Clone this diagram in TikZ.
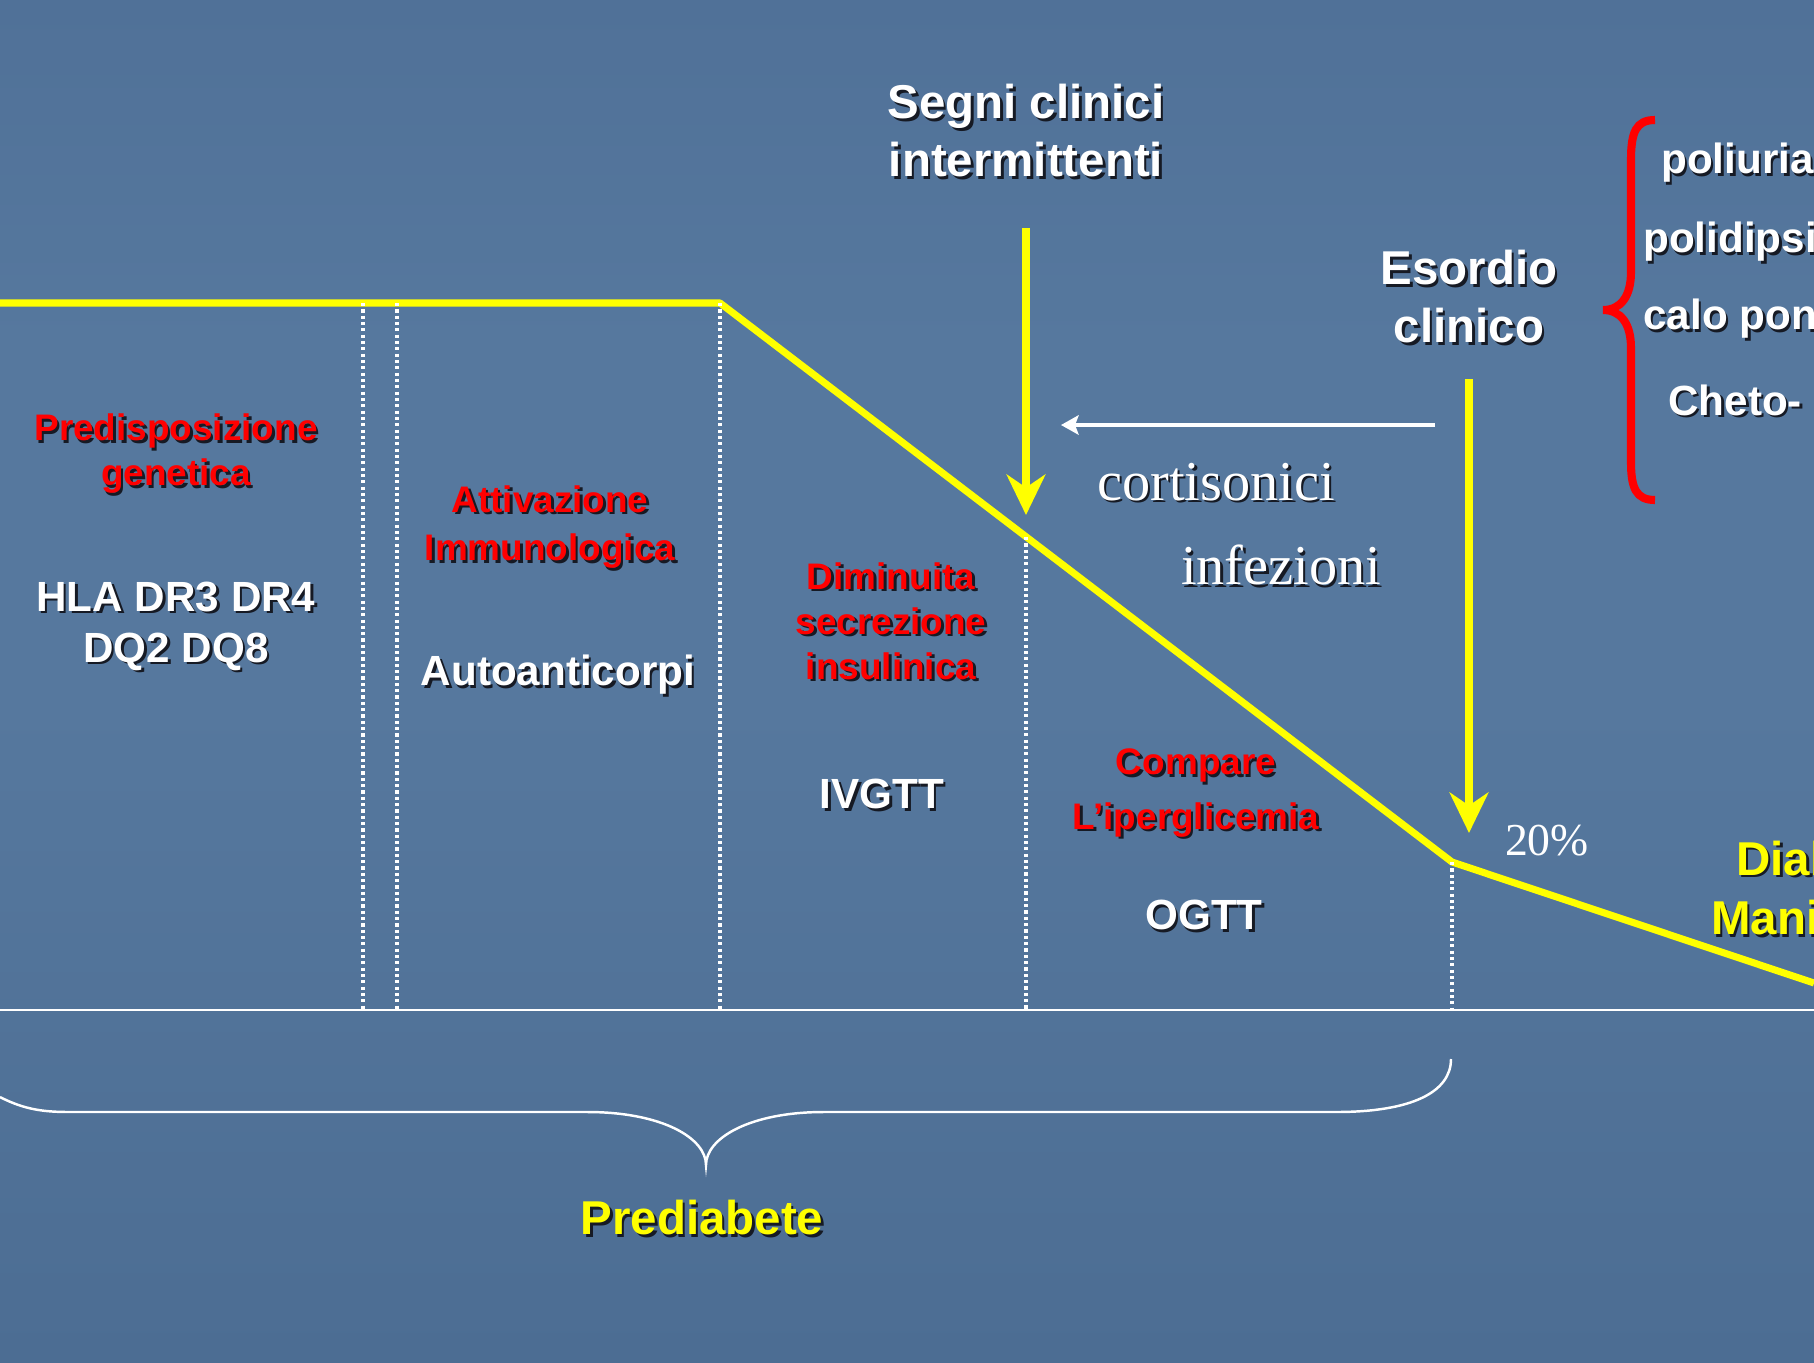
\documentclass[tikz,border=0pt]{standalone}
\usepackage{fontspec}
\setmainfont{Liberation Sans}
\newfontfamily\serifface{Liberation Serif}
\usetikzlibrary{arrows.meta,positioning}

\definecolor{slidetop}{RGB}{80,113,152}
\definecolor{slidemid}{RGB}{86,120,158}
\definecolor{slidebot}{RGB}{76,109,147}
\definecolor{hilite}{RGB}{255,255,0}
\definecolor{alert}{RGB}{255,0,0}
\definecolor{shade}{RGB}{22,26,36}

% label with a dark drop shadow: style, name, position, text
\newcommand{\shnode}[4]{%
  \node[#1,text=shade] (#2-sh) at ([shift={(2.5,2.5)}]#3) {#4};
  \node[#1] (#2) at (#3) {#4};}

\begin{document}
\begin{tikzpicture}[x=0.01cm, y=-0.01cm,
                    thick,
                    main node/.style={align=center,inner sep=0pt,text=white,
                                      font=\bfseries\fontsize{12}{14.5}\selectfont},
                    red node/.style={main node,text=alert,
                                     font=\bfseries\fontsize{10.5}{12.8}\selectfont},
                    big node/.style={main node,
                                     font=\bfseries\fontsize{13.5}{16.5}\selectfont},
                    serif node/.style={inner sep=0pt,text=white,
                                       font=\serifface\fontsize{16}{19}\selectfont},
                    curve/.style={hilite,line width=2pt,line join=round},
                    drop/.style={hilite,line width=2.5pt,
                                 -{Stealth[length=11.5pt,width=11pt,inset=3.7pt]}},
                    divider/.style={white,line width=0.9pt,dash pattern=on 0.9pt off 0.9pt}]

  \useasboundingbox (0,0) rectangle (1814,1363);
  \clip (0,0) rectangle (1814,1363);
  \fill[top color=slidetop,bottom color=slidemid,middle color=slidemid] (0,0) rectangle (1814,700);
  \fill[top color=slidemid,bottom color=slidebot] (0,700) rectangle (1814,1363);

  % the curve
  \coordinate (start) at (0,303);
  \coordinate (bend) at (720,303);
  \coordinate (onset) at (1452,862);
  \coordinate (end) at (1814,983);
  \draw[curve] (start) -- (bend) -- (onset) -- (end);

  % time axis and phases
  \coordinate (axis l) at (0,1010);
  \coordinate (axis r) at (1814,1010);
  \draw[white,line width=0.6pt] (axis l) -- (axis r);
  \foreach \x in {363,397,720}
    \draw[divider] (\x,303) -- (\x,1010);
  \draw[divider] (1026,537) -- (1026,1010);
  \draw[divider] (onset) -- (1452,1010);

  % phase labels
  \shnode{red node}{pred}{176,454}{Predisposizione\\genetica}
  \shnode{main node}{hla}{176,626}{HLA DR3 DR4\\DQ2 DQ8}
  \shnode{red node,font=\bfseries\fontsize{10.5}{13.7}\selectfont}{attiv}{550,527}{Attivazione\\Immunologica}
  \shnode{main node}{auto}{558,675}{Autoanticorpi}
  \shnode{red node}{dimin}{891,621}{Diminuita\\secrezione\\insulinica}
  \shnode{main node}{ivgtt}{882,794}{IVGTT}
  \shnode{red node,font=\bfseries\fontsize{10.5}{15.4}\selectfont}{compare}{1196,793}{Compare\\L’iperglicemia}
  \shnode{main node}{ogtt}{1204,915}{OGTT}

  % clinical signs
  \shnode{big node}{segni}{1026,131}{Segni clinici\\intermittenti}
  \shnode{big node}{esordio}{1469,297}{Esordio\\clinico}
  \coordinate (segni top) at (1026,228);
  \coordinate (segni tip) at (1026,515);
  \draw[drop] (segni top) -- (segni tip);
  \coordinate (esordio top) at (1469,379);
  \coordinate (esordio tip) at (1469,833);
  \draw[drop] (esordio top) -- (esordio tip);

  \coordinate (early r) at (1435,425);
  \coordinate (early l) at (1061,425);
  \draw[white,line width=1.4pt,-{Stealth[length=5pt,width=5.5pt,inset=1pt]}] (early r) -- (early l);
  \shnode{serif node}{cortis}{1216,482}{cortisonici}
  \shnode{serif node}{infez}{1281,565}{infezioni}
  \node[serif node,font=\serifface\fontsize{13}{15}\selectfont] (perc) at (1547,841) {20\%};

  % symptoms
  \draw[alert,line width=2.3pt] (1655,120) .. controls (1636,120) and (1631,132) .. (1631,160)
    -- (1631,272) .. controls (1631,296) and (1621,310) .. (1603,310)
    .. controls (1621,310) and (1631,324) .. (1631,348)
    -- (1631,462) .. controls (1631,488) and (1636,500) .. (1655,500);
  \shnode{main node,anchor=west}{poli}{1660,163}{poliuria}
  \shnode{main node,anchor=west}{dips}{1642,242}{polidipsia}
  \shnode{main node,anchor=west}{calo}{1642,319}{calo ponderale}
  \shnode{main node,anchor=west}{cheto}{1667,400}{Cheto-}

  \shnode{big node,text=hilite,font=\bfseries\fontsize{13.5}{16.8}\selectfont}{diab}{1822,888}{Diabete\\Manifesto}

  % prediabete brace
  \draw[white,line width=0.7pt] (0,1097) .. controls (25,1110) and (45,1112) .. (70,1112)
    -- (587,1112) .. controls (662,1112) and (706,1138) .. (706,1165)
    .. controls (706,1138) and (750,1112) .. (824,1112)
    -- (1336,1112) .. controls (1412,1112) and (1451,1092) .. (1451,1059);
  \shnode{big node,text=hilite}{prediab}{702,1218}{Prediabete}
\end{tikzpicture}
\end{document}
